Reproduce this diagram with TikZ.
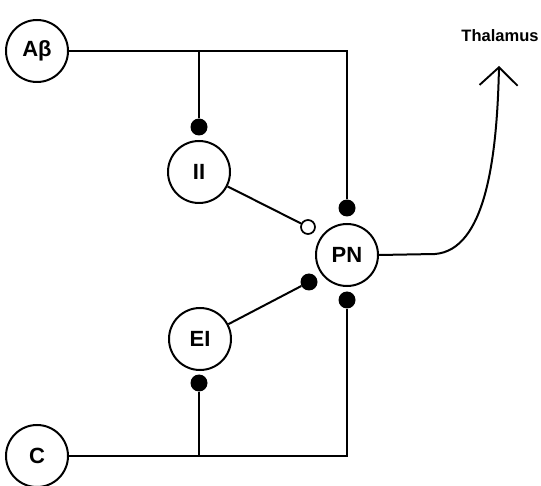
\documentclass[tikz,border=0pt]{standalone}
\usepackage{fontspec}
\setmainfont{Liberation Sans}
\usetikzlibrary{arrows.meta}
\begin{document}
\begin{tikzpicture}[x=1pt,y=-1pt,
  cell/.style={circle,draw,line width=2pt,minimum size=62pt,inner sep=0pt,font=\fontsize{22}{22}\selectfont\bfseries},
  exdot/.style={circle,fill,inner sep=0pt,minimum size=17pt},
  indot/.style={circle,draw,fill=white,line width=1.7pt,inner sep=0pt,minimum size=14pt},
  wire/.style={line width=2pt}]
\useasboundingbox (0,0) rectangle (541,486);
\node[cell] (Ab) at (37,51) {A\char"03B2};
\node[cell] (II) at (199,172) {II};
\node[cell] (PN) at (347,255) {PN};
\node[cell] (EI) at (200,339) {EI};
\node[cell] (C)  at (37,456) {C};
% synapse dots
\node[exdot] (dII) at (199,127) {};
\node[exdot] (dPNt) at (347,208) {};
\node[exdot] (dPNb) at (347,300) {};
\node[exdot] (dEIp) at (309,282) {};
\node[exdot] (dEI) at (199,383) {};
\node[indot] (oII) at (308,227) {};
\coordinate (ABj) at (199,51);
\coordinate (ABc) at (347,51);
\coordinate (Cj) at (199,456);
\coordinate (Cc) at (347,456);
% wires
\draw[wire] (Ab) -- (ABc) -- (dPNt);
\draw[wire] (ABj) -- (dII);
\draw[wire] (C) -- (Cc) -- (dPNb);
\draw[wire] (Cj) -- (dEI);
\draw[wire] (II) -- (oII);
\draw[wire] (EI) -- (dEIp);
% output
\coordinate (tip) at (499,66);
\draw[wire,-{Straight Barb[length=18pt,width=38pt,line width=1.9pt]}] (PN.east) -- (435,254) .. controls (485,250) and (497,160) .. (tip);
\node[font=\fontsize{16.5}{16.5}\selectfont\bfseries] (Th) at (500,36) {Thalamus};
\end{tikzpicture}
\end{document}
